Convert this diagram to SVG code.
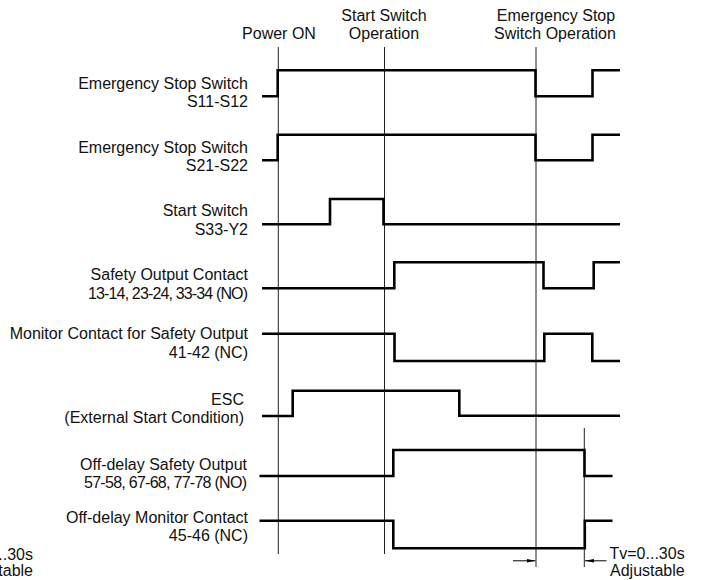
<svg xmlns="http://www.w3.org/2000/svg" width="703" height="580" viewBox="0 0 703 580">
<style>
text{font-family:"Liberation Sans",Arial,Helvetica,sans-serif;font-size:16px;fill:#111}
.l{text-anchor:end}
.m{text-anchor:middle}
.w{fill:none;stroke:#000;stroke-width:2.6;stroke-linejoin:miter;stroke-linecap:butt}
.t{fill:none;stroke:#222;stroke-width:1}
</style>
<defs>
<marker id="ah" markerWidth="10" markerHeight="6" refX="9" refY="3" orient="auto" markerUnits="userSpaceOnUse">
<path d="M0,1.2 L9,3 L0,4.8 Z" fill="#000"/>
</marker>
</defs>
<rect width="703" height="580" fill="#fff"/>

<g id="markers">
<text class="m" x="279" y="39">Power ON</text>
<text class="m" x="384" y="21">Start Switch</text>
<text class="m" x="384" y="39">Operation</text>
<text class="m" x="556" y="21">Emergency Stop</text>
<text class="m" x="555" y="39">Switch Operation</text>
<line class="t" x1="278.3" y1="47" x2="278.3" y2="554"/>
<line class="t" x1="384.5" y1="47" x2="384.5" y2="554"/>
<line class="t" x1="536" y1="47" x2="536" y2="567"/>
<line class="t" x1="584.3" y1="428" x2="584.3" y2="567"/>
</g>

<g id="sig1">
<text class="l" x="248" y="88.5">Emergency Stop Switch</text>
<text class="l" x="248" y="107">S11-S12</text>
<path class="w" d="M262,96.3 H277.7 V70.3 H535.5 V96.3 H592.5 V70.3 H620"/>
</g>
<g id="sig2">
<text class="l" x="248" y="152.5">Emergency Stop Switch</text>
<text class="l" x="248" y="171">S21-S22</text>
<path class="w" d="M262,160.3 H277.7 V134.7 H535.5 V160.3 H592.5 V134.7 H620"/>
</g>
<g id="sig3">
<text class="l" x="248" y="216">Start Switch</text>
<text class="l" x="248" y="234.5">S33-Y2</text>
<path class="w" d="M262,224.3 H330 V199 H383.5 V224.3 H620"/>
</g>
<g id="sig4">
<text class="l" x="248" y="280">Safety Output Contact</text>
<text class="l" x="248" y="299" textLength="160" lengthAdjust="spacing">13-14, 23-24, 33-34 (NO)</text>
<path class="w" d="M262,288.3 H394.3 V262.3 H543.5 V288.3 H593.7 V262.3 H620"/>
</g>
<g id="sig5">
<text class="l" x="248" y="339">Monitor Contact for Safety Output</text>
<text class="l" x="248" y="357.5">41-42 (NC)</text>
<path class="w" d="M262,333.7 H394.5 V361 H544.3 V333.7 H592.3 V361 H620"/>
</g>
<g id="sig6">
<text class="l" x="244" y="404.5">ESC</text>
<text class="l" x="244" y="423">(External Start Condition)</text>
<path class="w" d="M262,416 H292.7 V390.7 H459.3 V415.7 H620"/>
</g>
<g id="sig7">
<text class="l" x="247" y="469.5">Off-delay Safety Output</text>
<text class="l" x="247" y="488" textLength="163" lengthAdjust="spacing">57-58, 67-68, 77-78 (NO)</text>
<path class="w" d="M259.5,476 H393.3 V450 H584.5 V476 H612.5"/>
</g>
<g id="sig8">
<text class="l" x="248" y="523">Off-delay Monitor Contact</text>
<text class="l" x="248" y="541">45-46 (NC)</text>
<path class="w" d="M259.5,520.7 H393.3 V548.2 H584.8 V520.7 H612.5"/>
</g>

<g id="dimension">
<line x1="513" y1="560.8" x2="535.5" y2="560.8" stroke="#000" stroke-width="1" marker-end="url(#ah)"/>
<line x1="606.5" y1="560.8" x2="585" y2="560.8" stroke="#000" stroke-width="1" marker-end="url(#ah)"/>
<text x="609.5" y="558.7">Tv=0...30s</text>
<text x="610" y="575.5">Adjustable</text>
<text class="l" x="33" y="559.7">Tv=0...30s</text>
<text class="l" x="33" y="576">Adjustable</text>
</g>
</svg>
